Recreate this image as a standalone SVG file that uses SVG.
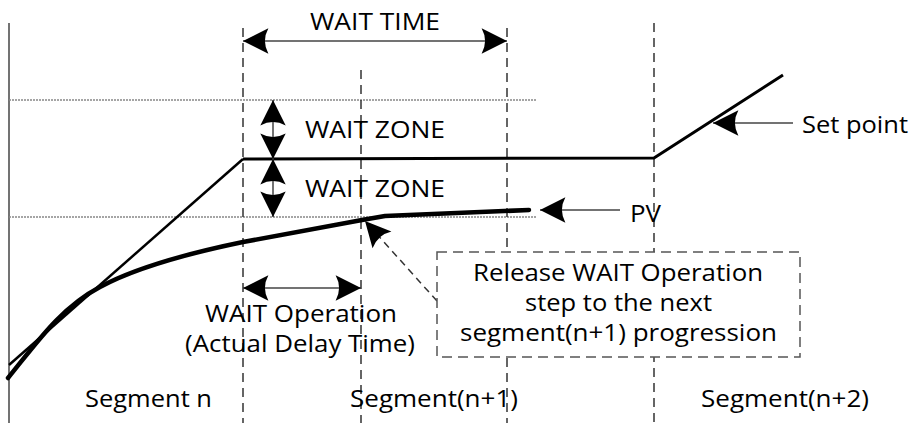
<svg xmlns="http://www.w3.org/2000/svg" width="912" height="423" viewBox="0 0 912 423">
<defs>
<style>
text{font-family:"Open Sans","Noto Sans","DejaVu Sans",sans-serif;font-size:24px;fill:#000}
.axis{stroke:#444;stroke-width:1.5;fill:none}
.dash{stroke:#333;stroke-width:1.5;stroke-dasharray:9,6;fill:none}
.dot{stroke:#888;stroke-width:1.5;stroke-dasharray:2,1;fill:none}
.arr{stroke:#444;stroke-width:1.5;fill:none}
.sp{stroke:#000;stroke-width:3;fill:none;stroke-linejoin:round}
.pv{stroke:#000;stroke-width:4.5;fill:none;stroke-linejoin:round;stroke-linecap:round}
.box{stroke:#555;stroke-width:1.5;stroke-dasharray:10,6;fill:#fff}
</style>
<marker id="ah" markerUnits="userSpaceOnUse" markerWidth="30" markerHeight="30" viewBox="-24 -12 26 24" refX="0" refY="0" orient="auto-start-reverse">
<path d="M0,0 L-22,-11 Q-16,0 -22,11 Z" fill="#000"/>
</marker>
</defs>
<g id="axes">
<path class="axis" d="M9,23 V423"/>
<path class="dot" d="M9,100 H537 M9,217 H537"/>
<path class="dash" d="M243,28 V423 M507,28 V423 M361,70 V423 M654,23 V423"/>
</g>
<g id="setpoint">
<path class="sp" d="M9,365 L243,159" style="stroke-width:2.5"/>
<path class="sp" d="M243,159 L654,158 L783,75"/>
</g>
<g id="pv-curve">
<path class="pv" d="M8,378 C35,345 60,308 100,287 C135,268 185,254 243,242 L362,220 L385,216 L529,210"/>
</g>
<g id="connectors">
<path class="arr" d="M243,41 H507" marker-start="url(#ah)" marker-end="url(#ah)"/>
<path class="arr" d="M273,100 V159" marker-start="url(#ah)" marker-end="url(#ah)"/>
<path class="arr" d="M273,159 V217" marker-start="url(#ah)" marker-end="url(#ah)"/>
<path class="arr" d="M243,288 H361" marker-start="url(#ah)" marker-end="url(#ah)"/>
<path class="arr" d="M620,210 H540" marker-end="url(#ah)"/>
<path class="arr" d="M793,123 H713" marker-end="url(#ah)"/>
<path class="dash" style="stroke-dasharray:7,5" d="M437,301 L365,221" marker-end="url(#ah)"/>
</g>
<g id="label-wait-time"><text x="310" y="30" textLength="130" lengthAdjust="spacingAndGlyphs">WAIT TIME</text></g>
<g id="label-wait-zone-1"><text x="305" y="138" textLength="140" lengthAdjust="spacingAndGlyphs">WAIT ZONE</text></g>
<g id="label-wait-zone-2"><text x="305" y="197" textLength="140" lengthAdjust="spacingAndGlyphs">WAIT ZONE</text></g>
<g id="label-pv"><text x="630" y="222" textLength="31" lengthAdjust="spacingAndGlyphs">PV</text></g>
<g id="label-setpoint"><text x="802" y="133" textLength="106" lengthAdjust="spacingAndGlyphs">Set point</text></g>
<g id="label-wait-op">
<text x="205" y="322" textLength="192" lengthAdjust="spacingAndGlyphs">WAIT Operation</text>
<text x="185" y="352" textLength="230" lengthAdjust="spacingAndGlyphs">(Actual Delay Time)</text>
</g>
<g id="release-box">
<rect class="box" x="437" y="252" width="363" height="105"/>
<text x="473" y="281" textLength="290" lengthAdjust="spacingAndGlyphs">Release WAIT Operation</text>
<text x="525" y="311" textLength="187" lengthAdjust="spacingAndGlyphs">step to the next</text>
<text x="460" y="341" textLength="317" lengthAdjust="spacingAndGlyphs">segment(n+1) progression</text>
</g>
<g id="segments">
<text x="85" y="407" textLength="127" lengthAdjust="spacingAndGlyphs">Segment n</text>
<text x="350" y="407" textLength="168" lengthAdjust="spacingAndGlyphs">Segment(n+1)</text>
<text x="701" y="407" textLength="168" lengthAdjust="spacingAndGlyphs">Segment(n+2)</text>
</g>
</svg>
